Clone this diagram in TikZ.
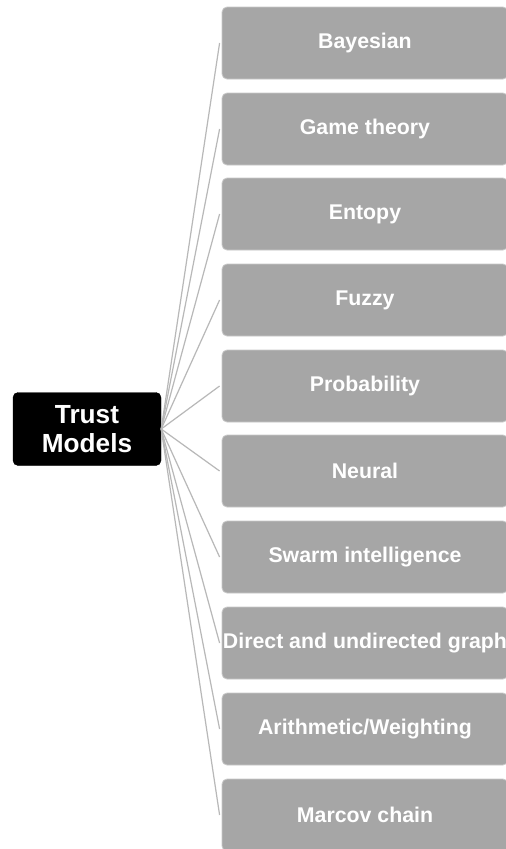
\documentclass[tikz,border=0pt]{standalone}
\usepackage{fontspec}
\setmainfont{Liberation Sans}
\definecolor{leafgray}{HTML}{A6A6A6}
\definecolor{leafedge}{HTML}{C9C9C9}
\definecolor{linkgray}{HTML}{B8B8B8}
\begin{document}
\begin{tikzpicture}[x=1pt,y=-1pt,
  rootbox/.style={draw=black, fill=black, rounded corners=5pt, minimum width=148pt,
    minimum height=73pt, inner sep=0pt, align=center, text=white,
    font=\fontsize{26.2}{29}\selectfont\bfseries},
  leafbox/.style={draw=leafedge, line width=0.8pt, fill=leafgray, rounded corners=5pt,
    minimum width=286pt, minimum height=72pt, inner sep=0pt, text=white,
    font=\fontsize{21.3}{25}\selectfont\bfseries},
  link/.style={draw=linkgray, line width=1.2pt}]
\useasboundingbox (0,0) rectangle (506,849);
\clip (0,0) rectangle (506,849);
\fill[white] (0,0) rectangle (506,849);

% central node
\node[rootbox] (root) at (87,429) {Trust\\Models};

% leaf boxes
\node[leafbox] (b1)  at (365,43)  {Bayesian};
\node[leafbox] (b2)  at (365,129) {Game theory};
\node[leafbox] (b3)  at (365,214) {Entopy};
\node[leafbox] (b4)  at (365,300) {Fuzzy};
\node[leafbox] (b5)  at (365,386) {Probability};
\node[leafbox] (b6)  at (365,471) {Neural};
\node[leafbox] (b7)  at (365,557) {Swarm intelligence};
\node[leafbox] (b8)  at (365,643) {Direct and undirected graph};
\node[leafbox] (b9)  at (365,729) {Arithmetic/Weighting};
\node[leafbox] (b10) at (365,815) {Marcov chain};

% connectors from the centre to every leaf
\foreach \i in {1,...,10}{
  \draw[link] (root.east) -- ([xshift=-2pt]b\i.west);
}
\end{tikzpicture}
\end{document}
